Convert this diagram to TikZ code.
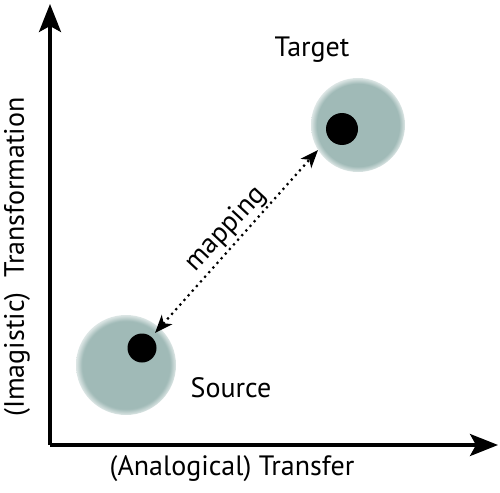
\documentclass[tikz,border=0pt]{standalone}
\usepackage{fontspec}
\setmainfont{PT Sans}
\usetikzlibrary{arrows.meta}
\definecolor{halo}{RGB}{160,186,183}
\pgfdeclareradialshading{haloshade}{\pgfpoint{0bp}{0bp}}{color(0bp)=(halo); color(22bp)=(halo); color(25bp)=(halo!35); color(50bp)=(white)}
\tikzset{
  axis/.style={line width=3.5pt, -{Stealth[length=28pt,width=22pt,inset=6pt]}},
  halocirc/.style={circle, shade, shading=haloshade, inner sep=0pt},
  core/.style={circle, fill=black, inner sep=0pt},
  lbl/.style={font=\fontsize{28}{32}\selectfont, inner sep=0pt},
  maparrow/.style={line width=2.2pt, dash pattern=on 2.2pt off 4pt, {Stealth[length=18pt,width=14pt,inset=5pt]}-{Stealth[length=18pt,width=14pt,inset=5pt]}}
}
\begin{document}
\begin{tikzpicture}[x=1pt,y=-1pt]
\useasboundingbox (0,0) rectangle (500,492);
\coordinate (O) at (50,445);
\coordinate (ytip) at (50,4);
\coordinate (xtip) at (498,445);
\draw[axis] (O) -- (ytip);
\draw[axis] (O) -- (xtip);
\node[halocirc, minimum size=100pt] (src) at (126,365) {};
\node[core, minimum size=29pt] (srcdot) at (142,348) {};
\node[halocirc, minimum size=94pt] (tgt) at (358,125) {};
\node[core, minimum size=32pt] (tgtdot) at (342,129) {};
\coordinate (m1) at (155,333);
\coordinate (m2) at (318,150);
\draw[maparrow] (m1) -- (m2);
\node[lbl, rotate=47] (map) at (226,229) {mapping};
\node[lbl] (tlabel) at (312,50) {Target};
\node[lbl] (slabel) at (231,388) {Source};
\node[lbl] (xlabel) at (232,469) {(Analogical) Transfer};
\node[lbl, rotate=90] (ylabel) at (17,257) {(Imagistic)\ \ Transformation};
\end{tikzpicture}
\end{document}
